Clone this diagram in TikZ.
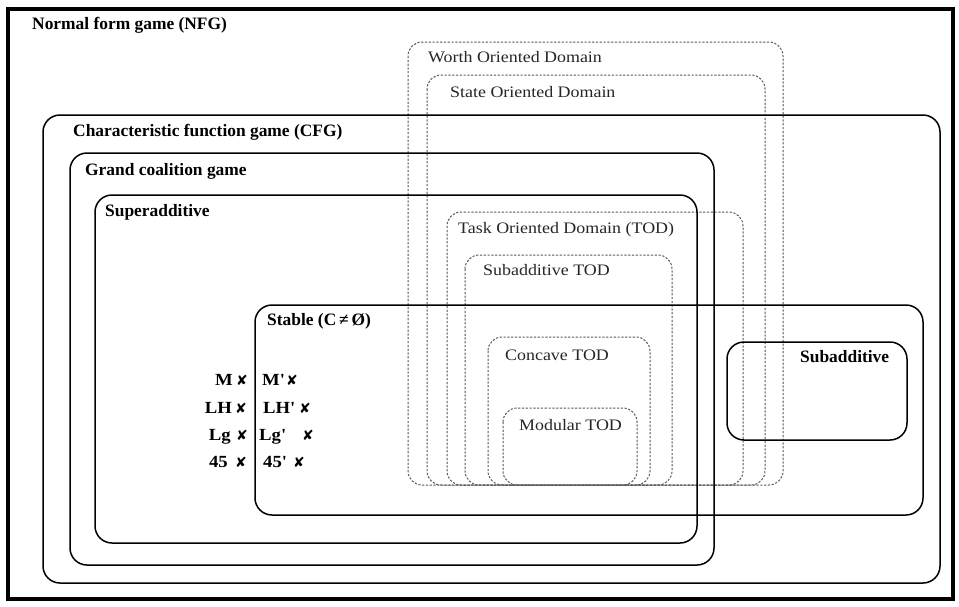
\documentclass[tikz,border=0pt]{standalone}
\usepackage{fontspec}
\setmainfont{Liberation Serif}
\newfontfamily\dfont[FakeStretch=1.12]{Liberation Serif}
\newfontfamily\mfont[FakeStretch=1.1]{Liberation Serif}
\newfontfamily\symfont{DejaVu Sans}
\newcommand{\ap}{\char"0027\relax}
\begin{document}
\begin{tikzpicture}[x=1pt,y=-1pt,
  solidbox/.style={draw=black, line width=1.5pt, rounded corners=17pt},
  dashbox/.style={draw=black!65, line width=1pt, dash pattern=on 2.2pt off 1.6pt, rounded corners=14pt},
  blab/.style={font=\fontsize{17.4}{19}\selectfont\bfseries, inner sep=0pt, anchor=base west},
  dlab/.style={font=\dfont\fontsize{16}{18}\selectfont, text=black!85, inner sep=0pt, anchor=base west},
  mlab/.style={font=\mfont\fontsize{17}{19}\selectfont\bfseries, inner sep=0pt},
  xmark/.style={font=\symfont\fontsize{14}{15}\selectfont, inner sep=0pt}]
\useasboundingbox[fill=white] (0,0) rectangle (959,606);
% outer frame
\draw[line width=3.5pt] (8,9) rectangle (953,599);
% dashed domain boxes
\draw[dashbox] (408,42) rectangle (783,485);
\draw[dashbox] (427,75) rectangle (765,485);
\draw[dashbox] (447,212) rectangle (743,485);
\draw[dashbox] (465,255) rectangle (672,485);
\draw[dashbox] (488,337) rectangle (650,485);
\draw[dashbox] (503,408) rectangle (637,485);
% solid boxes
\draw[solidbox] (43,115) rectangle (940,583);
\draw[solidbox] (70,153) rectangle (714,565);
\draw[solidbox] (95,195) rectangle (697,543);
\draw[solidbox] (255,305) rectangle (923,515);
\draw[solidbox] (727,342) rectangle (907,440);
% labels
\node[blab] (nfg) at (32,29) {Normal form game (NFG)};
\node[blab] (cfg) at (73,136) {Characteristic function game (CFG)};
\node[blab] (gcg) at (85,175) {Grand coalition game};
\node[blab] (sup) at (105,216) {Superadditive};
\node[blab] (stb) at (267,325) {Stable (C\,≠\,Ø)};
\node[blab] (sub) at (800,362) {Subadditive};
\node[dlab] (wod) at (428,62) {Worth Oriented Domain};
\node[dlab] (sod) at (450,97) {State Oriented Domain};
\node[dlab] (tod) at (458,233) {Task Oriented Domain (TOD)};
\node[dlab] (stod) at (483,275) {Subadditive TOD};
\node[dlab] (ctod) at (505,360) {Concave TOD};
\node[dlab] (mtod) at (519,430) {Modular TOD};
% points
\node[mlab, anchor=base east] (m) at (233,385) {M};
\node[mlab, anchor=base east] (lh) at (232,413) {LH};
\node[mlab, anchor=base east] (lg) at (231,440) {Lg};
\node[mlab, anchor=base east] (f) at (228,467) {45};
\node[xmark] (xm) at (242,380) {✘};
\node[xmark] (xlh) at (241,408) {✘};
\node[xmark] (xlg) at (242,435) {✘};
\node[xmark] (xf) at (241,462) {✘};
\node[mlab, anchor=base west] (mp) at (262,385) {M\ap};
\node[mlab, anchor=base west] (lhp) at (263,413) {LH\ap};
\node[mlab, anchor=base west] (lgp) at (259,440) {Lg\ap};
\node[mlab, anchor=base west] (fp) at (263,467) {45\ap};
\node[xmark] (xmp) at (292,380) {✘};
\node[xmark] (xlhp) at (305,408) {✘};
\node[xmark] (xlgp) at (308,435) {✘};
\node[xmark] (xfp) at (299,462) {✘};
\end{tikzpicture}
\end{document}
